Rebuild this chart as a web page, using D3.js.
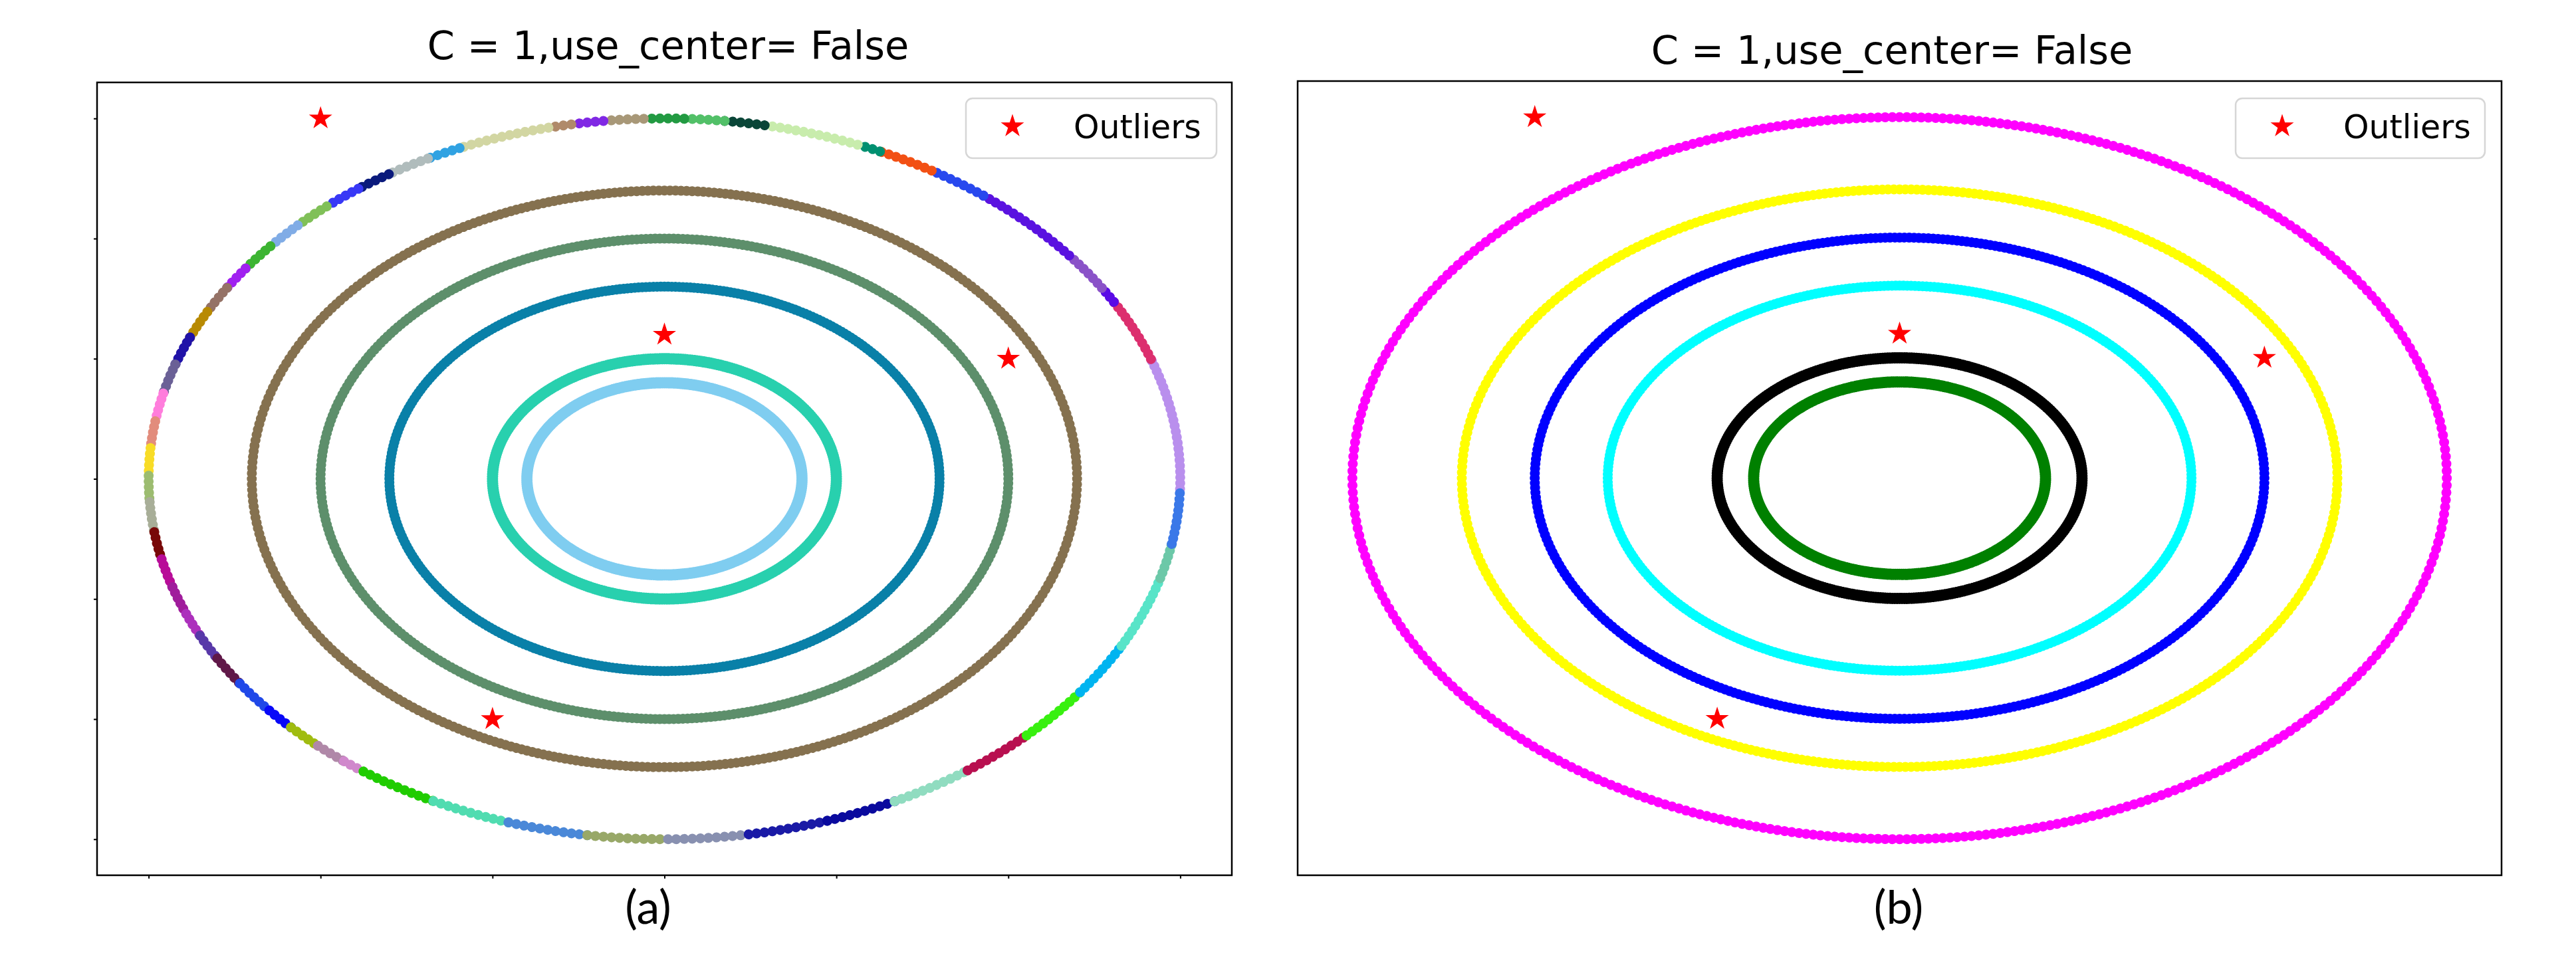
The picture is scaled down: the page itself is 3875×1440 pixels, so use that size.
<!DOCTYPE html>
<html><head><meta charset="utf-8">
<script src="https://cdn.jsdelivr.net/npm/d3@7"></script>
<style>html,body{margin:0;padding:0;background:#fff}</style>
</head><body>
<svg id="chart" width="3875" height="1440"></svg>
<script>
// ---------------- data ----------------
const ringRadii   = [3.0, 2.4, 2.0, 1.6, 1.0, 0.8];
const ringNoisy   = [false, false, false, false, true, true];
const ringColorsA = [null, "#85714f", "#5d8f6b", "#0980a8", "#28d0ae", "#7fcdf0"];
const ringColorsB = ["#ff00ff", "#ffff00", "#0000ff", "#00ffff", "#000000", "#008000"];
// outer ring of panel (a): cluster segments, angle boundaries in degrees (counter-clockwise)
const outerBounds = [-1.6, 19.4, 29.4, 32.0, 38.3, 51.8, 58.8, 65.3, 68.0, 78.8, 83.3, 87.8, 92.3, 96.8,
  100.4, 103.0, 113.4, 117.3, 122.3, 126.4, 130.9, 135.3, 139.8, 144.3, 148.0, 152.4, 156.9, 161.5,
  166.3, 170.8, 175.1, 179.5, 183.7, 188.5, 192.9, 197.5, 202.0, 205.8, 209.9, 214.6, 220.0, 223.6,
  227.8, 231.6, 234.3, 243.4, 252.4, 261.4, 270.4, 279.4, 288.4, 296.5, 306.0, 314.6, 323.7, 332.4,
  344.0, 349.6, 358.4];
const outerColors = ["#b98fed","#dc2e6e","#5a0ae6","#8a52c8","#5a12e0","#2848ee","#f25014","#009070",
  "#c8ecac","#0a4638","#52c068","#229a42","#a89878","#8028e4","#b08a6a","#d2d6a2","#30a2e2","#b0bcbc",
  "#0a1a7c","#3838f6","#80c058","#80ace6","#3cb432","#a020f0","#957266","#b88a02","#2012a8","#6a6096",
  "#ff7ddc","#e28c7c","#f8dc26","#9cbc70","#a8ae98","#780808","#b80c98","#a01c9c","#ac30bc","#5838a8",
  "#601848","#2048e8","#0808f8","#a0bc10","#b088a8","#d088cc","#20cc00","#50dcb0","#4a88d8","#98a868",
  "#8890b0","#1a1aa6","#0a0a9e","#90dcc0","#b81050","#38f010","#00b4f0","#58e4c8","#6cc8a8","#3a78e8"];
const outliersX = [-2, 0, 2, -1];
const outliersY = [3, 1.2, 1, -2];
const xTicks = [-3, -2, -1, 0, 1, 2, 3];
const yTicks = [-3, -2, -1, 0, 1, 2, 3];
const titleText = "C = 1,use_center= False";
const panelLabels = ["(a)", "(b)"];
const legendLabel = "Outliers";
const domainLim = [-3.3, 3.3];

// ---------------- layout ----------------
const panels = [
  {left: 146, right: 1853, top: 124, bottom: 1317, ticks: true,
   titleX: 1005, titleY: 89, labelX: 975, labelY: 1390, legX: 1453, legW: 377},
  {left: 1952, right: 3763, top: 122, bottom: 1317, ticks: false,
   titleX: 2846, titleY: 96, labelX: 2856, labelY: 1390, legX: 3363, legW: 375}
];

const svg = d3.select("#chart");
const DEG = Math.PI / 180;

function arcPath(x, y, r, a0, a1) {
  const angles = d3.range(a0, a1, 0.25).concat([a1]);
  return d3.line().x(a => x(r * Math.cos(a * DEG))).y(a => y(r * Math.sin(a * DEG)))(angles);
}

function drawDotted(g, d, color, width, n) {
  g.append("path").attr("d", d).attr("fill", "none")
    .attr("stroke", color).attr("stroke-width", width)
    .attr("stroke-linecap", "round")
    .attr("pathLength", n)
    .attr("stroke-dasharray", "0.001 0.999");
}

panels.forEach((p, pi) => {
  const x = d3.scaleLinear().domain(domainLim).range([p.left, p.right]);
  const y = d3.scaleLinear().domain(domainLim).range([p.bottom, p.top]);
  const g = svg.append("g");

  const clipId = "clip" + pi;
  svg.append("clipPath").attr("id", clipId).append("rect")
    .attr("x", p.left).attr("y", p.top).attr("width", p.right - p.left).attr("height", p.bottom - p.top);
  const plot = g.append("g").attr("clip-path", `url(#${clipId})`);

  // rings
  ringRadii.forEach((r, i) => {
    const w = ringNoisy[i] ? 17 : 15;
    if (pi === 0 && i === 0) {
      for (let k = 0; k < outerColors.length; k++) {
        const a0 = outerBounds[k], a1 = outerBounds[k + 1];
        drawDotted(plot, arcPath(x, y, r, a0, a1), outerColors[k], w, (a1 - a0) / 0.9);
      }
    } else {
      const col = pi === 0 ? ringColorsA[i] : ringColorsB[i];
      drawDotted(plot, arcPath(x, y, r, 0, 360), col, w, 400);
    }
  });

  // outliers
  const star = d3.symbol().type(d3.symbolStar).size(380);
  plot.selectAll("path.out").data(outliersX.map((v, i) => [v, outliersY[i]])).enter()
    .append("path").attr("class", "out")
    .attr("d", star)
    .attr("transform", d => `translate(${x(d[0])},${y(d[1])})`)
    .attr("fill", "#ff0000");

  // ticks
  if (p.ticks) {
    const ax = g.append("g").attr("transform", `translate(0,${p.bottom})`)
      .call(d3.axisBottom(x).tickValues(xTicks).tickFormat("").tickSizeInner(5).tickSizeOuter(0));
    ax.select(".domain").remove();
    ax.selectAll("line").attr("stroke", "#000").attr("stroke-width", 2);
    const ay = g.append("g").attr("transform", `translate(${p.left},0)`)
      .call(d3.axisLeft(y).tickValues(yTicks).tickFormat("").tickSizeInner(5).tickSizeOuter(0));
    ay.select(".domain").remove();
    ay.selectAll("line").attr("stroke", "#000").attr("stroke-width", 2);
  }

  // frame
  g.append("rect").attr("x", p.left).attr("y", p.top)
    .attr("width", p.right - p.left).attr("height", p.bottom - p.top)
    .attr("fill", "none").attr("stroke", "#000").attr("stroke-width", 2.5);

  // legend
  const lg = g.append("g");
  lg.append("rect").attr("x", p.legX).attr("y", 148).attr("width", p.legW).attr("height", 90)
    .attr("rx", 10).attr("ry", 10)
    .attr("fill", "#fff").attr("fill-opacity", 0.8)
    .attr("stroke", "#d6d6d6").attr("stroke-width", 2.5);
  lg.append("path").attr("d", star)
    .attr("transform", `translate(${p.legX + 70},${190})`).attr("fill", "#ff0000");
  lg.append("text").attr("x", p.legX + 162).attr("y", 208)
    .attr("font-family", "DejaVu Sans").attr("font-size", 49).attr("fill", "#000")
    .text(legendLabel);

  // title
  g.append("text").attr("x", p.titleX).attr("y", p.titleY).attr("text-anchor", "middle")
    .attr("font-family", "DejaVu Sans").attr("font-size", 59).attr("fill", "#000")
    .text(titleText);

  // panel label
  g.append("text").attr("x", p.labelX).attr("y", p.labelY).attr("text-anchor", "middle")
    .attr("font-family", "Lato").attr("font-size", 70).attr("fill", "#000")
    .text(panelLabels[pi]);
});
</script>
</body></html>
